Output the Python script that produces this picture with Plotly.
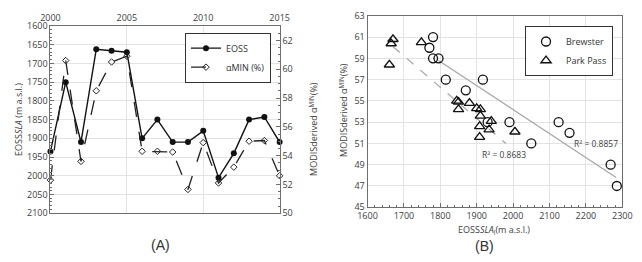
import plotly.graph_objects as go

# ---------------- Panel A data ----------------
years = [2000, 2001, 2002, 2003, 2004, 2005, 2006, 2007, 2008, 2009, 2010, 2011, 2012, 2013, 2014, 2015]
eoss_sla = [1935, 1750, 1910, 1662, 1666, 1670, 1900, 1850, 1910, 1910, 1880, 2005, 1940, 1850, 1843, 1910]
alpha_min = [52.3, 60.6, 53.6, 58.5, 60.5, 60.9, 54.3, 54.3, 54.25, 51.65, 54.9, 52.1, 53.2, 55.0, 55.05, 52.6]

# ---------------- Panel B data ----------------
brewster_x = [1780, 1770, 1780, 1795, 1815, 1917, 1870, 1930, 1990, 2125, 2155, 2050, 2268, 2285]
brewster_y = [61.0, 60.0, 59.0, 59.0, 57.0, 57.0, 56.0, 53.0, 53.0, 53.0, 52.0, 51.0, 49.0, 47.0]
parkpass_x = [1670, 1665, 1660, 1748, 1845, 1850, 1850, 1880, 1900, 1910, 1910, 1940, 1908, 1908, 1934, 2005]
parkpass_y = [60.8, 60.4, 58.4, 60.5, 55.0, 54.9, 54.2, 54.8, 54.3, 54.2, 53.6, 53.1, 52.6, 51.6, 52.3, 52.1]
brewster_fit_x = [1795, 2283]
brewster_fit_y = [58.8, 47.8]
parkpass_fit_x = [1670, 1980]
parkpass_fit_y = [60.1, 51.0]
r2_labels = ["R² = 0.8683", "R² = 0.8857"]

FONT = "Open Sans"
TICKC = "#404040"
GRID = "#e3e3e3"
AXC = "#6e6e6e"

fig = go.Figure()

fig.add_trace(go.Scatter(
    x=years, y=eoss_sla, name="EOSS", mode="lines+markers",
    line=dict(color="#111111", width=1.4),
    marker=dict(symbol="circle", size=6, color="#111111"),
    xaxis="x", yaxis="y", legend="legend", cliponaxis=False))
fig.add_trace(go.Scatter(
    x=years, y=alpha_min, name="αMIN (%)", mode="lines+markers",
    line=dict(color="#222222", width=1.3, dash="longdash"),
    marker=dict(symbol="diamond-open", size=5, color="#222222", line=dict(width=1)),
    xaxis="x", yaxis="y2", legend="legend", cliponaxis=False))

fig.add_trace(go.Scatter(
    x=brewster_fit_x, y=brewster_fit_y, mode="lines", showlegend=False,
    line=dict(color="#a6a6a6", width=1.2), xaxis="x3", yaxis="y3"))
fig.add_trace(go.Scatter(
    x=parkpass_fit_x, y=parkpass_fit_y, mode="lines", showlegend=False,
    line=dict(color="#a6a6a6", width=1.2, dash="dash"), xaxis="x3", yaxis="y3"))
fig.add_trace(go.Scatter(
    x=brewster_x, y=brewster_y, name="Brewster", mode="markers",
    marker=dict(symbol="circle-open", size=9, color="#111111", line=dict(width=1.3)),
    xaxis="x3", yaxis="y3", legend="legend2", cliponaxis=False))
fig.add_trace(go.Scatter(
    x=parkpass_x, y=parkpass_y, name="Park Pass", mode="markers",
    marker=dict(symbol="triangle-up-open", size=9, color="#111111", line=dict(width=1.3)),
    xaxis="x3", yaxis="y3", legend="legend2", cliponaxis=False))

tickfont = dict(family=FONT, size=9, color=TICKC)

fig.update_layout(
    width=642, height=262,
    margin=dict(l=0, r=0, t=0, b=0),
    paper_bgcolor="white", plot_bgcolor="white",
    font=dict(family=FONT, color=TICKC),
    xaxis=dict(domain=[0.065, 0.4335], range=[2000, 2015], side="top",
               tickvals=[2000, 2005, 2010, 2015], tickfont=tickfont,
               showgrid=True, gridcolor=GRID, showline=True, linecolor=AXC,
               linewidth=1, mirror=True, ticks="", zeroline=False,
               anchor="y"),
    yaxis=dict(domain=[0.1718, 0.9237], range=[2100, 1600], dtick=50,
               tickfont=tickfont, showgrid=True, gridcolor=GRID,
               showline=True, linecolor=AXC, linewidth=1, mirror=True,
               ticks="inside", ticklen=4, tickcolor=AXC, zeroline=False,
               minor=dict(dtick=10, ticks="inside", ticklen=2, tickcolor=AXC),
               anchor="x"),
    yaxis2=dict(overlaying="y", side="right", range=[50, 63],
                tickvals=[50, 52, 54, 56, 58, 60, 62], tickfont=tickfont,
                showgrid=False, showline=True, linecolor=AXC, linewidth=1,
                ticks="inside", ticklen=4, tickcolor=AXC, zeroline=False,
                minor=dict(dtick=0.5, ticks="inside", ticklen=2, tickcolor=AXC),
                anchor="x"),
    xaxis3=dict(domain=[0.5748, 0.9844], range=[1600, 2300], dtick=100,
                tickfont=tickfont, showgrid=True, gridcolor=GRID,
                showline=True, linecolor=AXC, linewidth=1, mirror=True,
                ticks="inside", ticklen=4, tickcolor=AXC, zeroline=False,
                minor=dict(dtick=20, ticks="inside", ticklen=2, tickcolor=AXC),
                anchor="y3"),
    yaxis3=dict(domain=[0.1958, 0.9645], range=[45, 63], dtick=2, tick0=45,
                tickfont=tickfont, showgrid=True, gridcolor=GRID,
                showline=True, linecolor=AXC, linewidth=1, mirror=True,
                ticks="", zeroline=False, anchor="x3"),
    legend=dict(x=225 / 642, y=0.897, xanchor="center", yanchor="top",
                bgcolor="white", bordercolor="#333333", borderwidth=1,
                font=dict(family=FONT, size=9, color="#333333"),
                itemwidth=30, tracegroupgap=0),
    legend2=dict(x=577 / 642, y=0.9237, xanchor="center", yanchor="top",
                 bgcolor="white", bordercolor="#333333", borderwidth=1,
                 font=dict(family=FONT, size=9, color="#333333"),
                 itemwidth=30, tracegroupgap=0),
)

ann = [
    dict(text="EOSS<i>SLA</i> (m a.s.l.)", x=8, y=118, textangle=-90),
    dict(text="MODISderived α<sup>MIN</sup>(%)", x=313, y=128, textangle=-90),
    dict(text="MODISderived α<sup>MIN</sup>(%)", x=344, y=108, textangle=-90),
    dict(text="EOSS<i>SLA</i><sub>l</sub>(m a.s.l.)", x=500, y=235, textangle=0),
]
for a in ann:
    fig.add_annotation(text=a["text"], x=a["x"] / 642, y=1 - a["y"] / 262,
                       xref="paper", yref="paper", showarrow=False,
                       textangle=a["textangle"], xanchor="center", yanchor="middle",
                       font=dict(family=FONT, size=9, color=TICKC))

fig.add_annotation(text="(A)", x=155 / 642, y=1 - 250 / 262, xref="paper", yref="paper",
                   xanchor="center", yanchor="middle",
                   showarrow=False, font=dict(family="Liberation Sans", size=14, color="#333333"))
fig.add_annotation(text="(B)", x=490 / 642, y=1 - 252 / 262, xref="paper", yref="paper",
                   xanchor="center", yanchor="middle",
                   showarrow=False, font=dict(family="Liberation Sans", size=14, color="#333333"))

fig.add_annotation(text=r2_labels[0], x=1976, y=50.0, xref="x3", yref="y3", showarrow=False,
                   xanchor="center", yanchor="middle",
                   font=dict(family=FONT, size=8.5, color=TICKC))
fig.add_annotation(text=r2_labels[1], x=2227, y=51.0, xref="x3", yref="y3", showarrow=False,
                   xanchor="center", yanchor="middle",
                   font=dict(family=FONT, size=8.5, color=TICKC))

fig.write_html("out.html")
